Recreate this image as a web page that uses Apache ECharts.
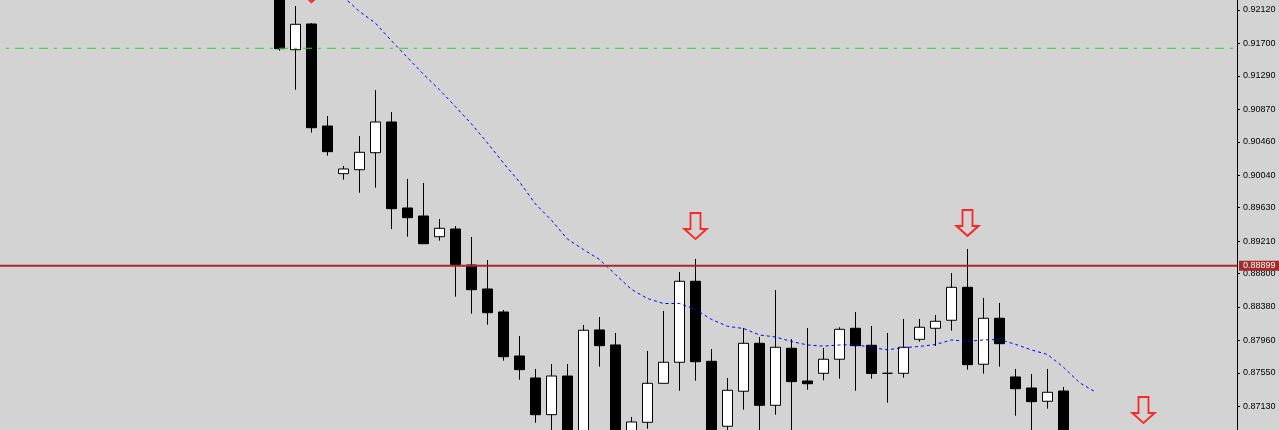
<!DOCTYPE html>
<html>
<head>
<meta charset="utf-8">
<script src="https://cdn.jsdelivr.net/npm/echarts@6/dist/echarts.min.js"></script>
<style>
html,body{margin:0;padding:0;background:#D3D3D3;}
#chart{width:1279px;height:430px;}
</style>
</head>
<body>
<div id="chart"></div>
<script>
// ---- data (bar index counts from the first visible candle) ----
const barIndex = [0,1,2,3,4,5,6,7,8,9,10,11,12,13,14,15,16,17,18,19,20,21,22,23,24,25,26,27,28,29,30,31,32,33,34,35,36,37,38,39,40,41,42,43,44,45,46,47,48,49];
const opens  = [0.92498,0.91620,0.91944,0.90659,0.90059,0.90109,0.90323,0.90710,0.89627,0.89526,0.89265,0.89362,0.88909,0.88607,0.88317,0.87763,0.87486,0.87024,0.87511,0.86517,0.88091,0.87902,0.86580,0.86928,0.87419,0.87684,0.88704,0.87696,0.86878,0.87319,0.87923,0.87142,0.87860,0.87448,0.87545,0.87722,0.88112,0.87898,0.87545,0.87545,0.87973,0.88112,0.88213,0.88628,0.87659,0.88238,0.87499,0.87360,0.87193,0.87322];
const closes = [0.91633,0.91940,0.90638,0.90336,0.90118,0.90328,0.90710,0.89618,0.89505,0.89177,0.89371,0.88913,0.88598,0.88308,0.87754,0.87591,0.87024,0.87511,0.86580,0.88087,0.87893,0.86580,0.86932,0.87419,0.87684,0.88704,0.87691,0.86643,0.87331,0.87923,0.87142,0.87873,0.87440,0.87414,0.87722,0.88099,0.87893,0.87543,0.87545,0.87873,0.88125,0.88200,0.88628,0.87654,0.88238,0.87918,0.87351,0.87188,0.87306,0.86580];
const lows   = [0.91608,0.91116,0.90575,0.90285,0.89983,0.89819,0.89882,0.89362,0.89265,0.89177,0.89215,0.88510,0.88296,0.88157,0.87704,0.87465,0.86923,0.86643,0.86391,0.86454,0.87628,0.86454,0.86454,0.86847,0.87419,0.87326,0.87452,0.86517,0.86643,0.87087,0.86643,0.87024,0.86705,0.87339,0.87457,0.87477,0.87326,0.87477,0.87175,0.87490,0.87943,0.87889,0.88082,0.87591,0.87540,0.87628,0.87011,0.86705,0.87100,0.86517];
const highs  = [0.92624,0.92170,0.91956,0.90785,0.90156,0.90533,0.91113,0.90836,0.89992,0.89942,0.89488,0.89400,0.89262,0.88972,0.88342,0.88015,0.87600,0.87662,0.87662,0.88154,0.88254,0.88053,0.86995,0.87826,0.88330,0.88821,0.88985,0.87851,0.87486,0.88116,0.88002,0.88594,0.87977,0.88116,0.87864,0.88125,0.88317,0.88141,0.88053,0.88229,0.88229,0.88279,0.88808,0.89111,0.88494,0.88431,0.87600,0.87537,0.87600,0.87373];

// moving average (shifted two bars ahead of the last candle)
const maBars   = [0,1,2,3,4,5,6,7,8,9,10,11,12,13,14,15,16,17,18,19,20,21,22,23,24,25,26,27,28,29,30,31,32,33,34,35,36,37,38,39,40,41,42,43,44,45,46,47,48,49,50,51];
const maValues = [0.92976,0.92813,0.92636,0.92460,0.92284,0.92101,0.91954,0.91732,0.91522,0.91310,0.91116,0.90902,0.90685,0.90445,0.90193,0.89954,0.89677,0.89473,0.89234,0.89104,0.88978,0.88789,0.88601,0.88487,0.88424,0.88424,0.88349,0.88223,0.88137,0.88109,0.88028,0.88002,0.87946,0.87902,0.87887,0.87902,0.87907,0.87868,0.87841,0.87868,0.87883,0.87908,0.87965,0.87946,0.87965,0.87971,0.87910,0.87839,0.87782,0.87621,0.87427,0.87310];

// down-arrow signals
const arrowBars   = [2, 26, 43, 54];
const arrowPrices = [0.92384, 0.89400, 0.89438, 0.87083];

// horizontal levels
const redLevel   = 0.88899;
const greenLevel = 0.91638;

// price-scale tick labels
const yTickLabels = ['0.92120','0.91700','0.91290','0.90870','0.90460','0.90040','0.89630','0.89210','0.88800','0.88380','0.87960','0.87550','0.87130'];
const yTickValues = yTickLabels.map(Number);

// ---- chart ----
const X_MIN = -17.46875, X_MAX = 59.84375;
const candleData = barIndex.map(i => [i, opens[i], closes[i], lows[i], highs[i]]);
const maData = maBars.map((b, i) => [b, maValues[i]]);
const arrowData = arrowBars.map((b, i) => [b, arrowPrices[i]]);

const chart = echarts.init(document.getElementById('chart'), null, {renderer: 'canvas'});
chart.setOption({
  animation: false,
  backgroundColor: '#D3D3D3',
  grid: {left: 0, right: 42, top: 0, bottom: 0, containLabel: false},
  xAxis: {type: 'value', min: X_MIN, max: X_MAX, show: false},
  yAxis: {
    type: 'value', position: 'right', min: 0.86831, max: 0.92246,
    splitLine: {show: false},
    axisLine: {show: true, onZero: false, lineStyle: {color: '#000000', width: 1}},
    axisTick: {show: true, length: 3, customValues: yTickValues, lineStyle: {color: '#000000'}},
    axisLabel: {
      customValues: yTickValues,
      formatter: v => v.toFixed(5),
      color: '#000000', fontFamily: 'Liberation Sans', fontSize: 9, margin: 6
    }
  },
  series: [
    {
      type: 'candlestick',
      data: candleData,
      barWidth: 10,
      clip: true,
      itemStyle: {
        color: '#FFFFFF', color0: '#000000',
        borderColor: '#000000', borderColor0: '#000000', borderColorDoji: '#000000',
        borderWidth: 1
      },
      z: 2
    },
    {
      type: 'line',
      data: [[X_MIN, greenLevel], [X_MAX, greenLevel]],
      symbol: 'none',
      silent: true,
      clip: false,
      lineStyle: {color: '#32CD32', width: 1, type: [9, 6, 3, 6], dashOffset: 9},
      z: 3
    },
    {
      type: 'line',
      data: maData,
      symbol: 'none',
      clip: true,
      silent: true,
      lineStyle: {color: '#0000FF', width: 1, type: [3, 3]},
      z: 4
    },
    {
      type: 'line',
      data: [[X_MIN, redLevel], [X_MAX, redLevel]],
      symbol: 'none',
      silent: true,
      clip: false,
      lineStyle: {color: '#A52A2A', width: 2, type: 'solid'},
      endLabel: {
        show: true, distance: 2,
        formatter: () => redLevel.toFixed(5),
        backgroundColor: '#A52A2A', color: '#FFFFFF',
        padding: [1, 4, 0, 4], fontSize: 9, fontFamily: 'Liberation Sans'
      },
      z: 6
    },
    {
      type: 'scatter',
      data: arrowData,
      clip: false,
      silent: true,
      symbol: 'path://M6,0 L16,0 L16,16 L22,16 L11,26 L0,16 L6,16 Z',
      symbolSize: [22, 26],
      itemStyle: {color: 'rgba(0,0,0,0)', borderColor: '#FF0000', borderWidth: 2},
      z: 5
    }
  ]
});
</script>
</body>
</html>
